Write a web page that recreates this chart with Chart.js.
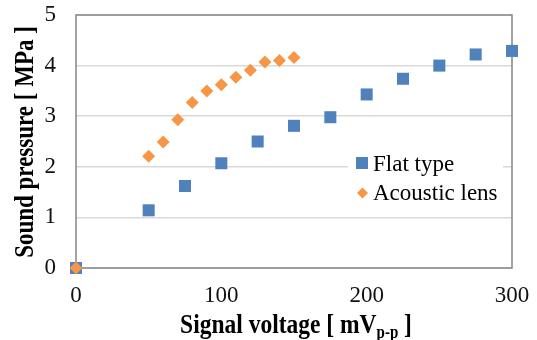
<!DOCTYPE html>
<html>
<head>
<meta charset="utf-8">
<script src="https://cdn.jsdelivr.net/npm/chart.js@4/dist/chart.umd.min.js"></script>
<style>
  html, body { margin: 0; padding: 0; background: #fff; }
  #wrap { width: 537px; height: 340px; }
</style>
</head>
<body>
<div id="wrap"><canvas id="chart"></canvas></div>
<script>
// data
const flatX = [0, 50, 75, 100, 125, 150, 175, 200, 225, 250, 275, 300];
const flatY = [0, 1.14, 1.62, 2.07, 2.5, 2.81, 2.98, 3.43, 3.74, 4.0, 4.22, 4.29];
const lensX = [0, 50, 60, 70, 80, 90, 100, 110, 120, 130, 140, 150];
const lensY = [0, 2.21, 2.49, 2.93, 3.27, 3.5, 3.62, 3.77, 3.91, 4.07, 4.1, 4.16];
const yTicks = [0, 1, 2, 3, 4, 5];
const xTicks = [0, 100, 200, 300];

const blue = "#4F81BD";
const orange = "#F79646";
const serif = "'Liberation Serif', 'Times New Roman', serif";

const toPoints = (xs, ys) => xs.map((x, i) => ({ x: x, y: ys[i] }));

// frame, legend box and axis titles
const extras = {
  id: "extras",
  beforeDatasetsDraw(chart) {
    const { ctx, chartArea: a } = chart;
    ctx.save();
    ctx.strokeStyle = "#868686";
    ctx.lineWidth = 1.5;
    ctx.strokeRect(a.left, a.top, a.right - a.left, a.bottom - a.top);

    // legend
    ctx.fillStyle = "#fff";
    ctx.fillRect(348, 148, 155, 60);
    ctx.font = "23px " + serif;
    ctx.fillStyle = "#000";
    ctx.fillText("Flat type", 373, 171);
    ctx.fillText("Acoustic lens", 373, 200);
    ctx.fillStyle = blue;
    ctx.fillRect(356, 157, 12, 12);
    ctx.fillStyle = orange;
    ctx.beginPath();
    ctx.moveTo(362.5, 187.5);
    ctx.lineTo(368, 193);
    ctx.lineTo(362.5, 198.5);
    ctx.lineTo(357, 193);
    ctx.closePath();
    ctx.fill();

    // x title with subscript, text looks a bit stretched vertically
    ctx.fillStyle = "#000";
    const big = "bold 23.5px " + serif;
    const small = "bold 15px " + serif;
    const p1 = "Signal voltage [ mV";
    const p2 = "p-p";
    const p3 = " ]";
    ctx.font = big;
    const w1 = ctx.measureText(p1).width;
    const w3 = ctx.measureText(p3).width;
    ctx.font = small;
    const w2 = ctx.measureText(p2).width;
    let x = 296 - (w1 + w2 + w3) / 2;
    ctx.save();
    ctx.translate(0, 333);
    ctx.scale(1, 1.2);
    ctx.font = big;
    ctx.fillText(p1, x, 0);
    x += w1;
    ctx.font = small;
    ctx.fillText(p2, x, 4);
    x += w2;
    ctx.font = big;
    ctx.fillText(p3, x, 0);
    ctx.restore();

    // y title
    ctx.translate(33, 142);
    ctx.rotate(-Math.PI / 2);
    ctx.scale(1, 1.2);
    ctx.textAlign = "center";
    ctx.font = "bold 23px " + serif;
    ctx.fillText("Sound pressure [ MPa ]", 0, 0);
    ctx.restore();
  }
};

new Chart(document.getElementById("chart"), {
  type: "scatter",
  data: {
    datasets: [
      {
        label: "Flat type",
        data: toPoints(flatX, flatY),
        pointStyle: "rect",
        pointRadius: 8.5,
        pointHoverRadius: 8.5,
        backgroundColor: blue,
        borderColor: blue,
        borderWidth: 0,
        order: 1,
        clip: false
      },
      {
        label: "Acoustic lens",
        data: toPoints(lensX, lensY),
        pointStyle: "rectRot",
        pointRadius: 6.5,
        pointHoverRadius: 6.5,
        backgroundColor: orange,
        borderColor: orange,
        borderWidth: 0,
        order: 0,
        clip: false
      }
    ]
  },
  options: {
    responsive: true,
    maintainAspectRatio: false,
    animation: false,
    layout: { padding: { left: 0, right: 25, top: 15, bottom: 0 } },
    plugins: { legend: { display: false }, tooltip: { enabled: false } },
    scales: {
      x: {
        type: "linear",
        min: 0,
        max: 300,
        afterBuildTicks: (s) => { s.ticks = xTicks.map((v) => ({ value: v })); },
        afterFit: (s) => {
          s.height = 72;
          s.paddingLeft = 0;
          s.paddingRight = 0;
        },
        grid: { display: false, drawTicks: false },
        border: { display: false },
        ticks: { padding: 14, color: "#111", font: { family: serif, size: 23 } }
      },
      y: {
        min: 0,
        max: 5,
        afterBuildTicks: (s) => { s.ticks = yTicks.map((v) => ({ value: v })); },
        afterFit: (s) => {
          s.width = 76;
          s.paddingTop = 0;
          s.paddingBottom = 0;
        },
        grid: { color: "#d9d9d9", lineWidth: 1.5, drawTicks: false },
        border: { display: false },
        ticks: { padding: 20, color: "#111", font: { family: serif, size: 23 } }
      }
    }
  },
  plugins: [extras]
});
</script>
</body>
</html>
